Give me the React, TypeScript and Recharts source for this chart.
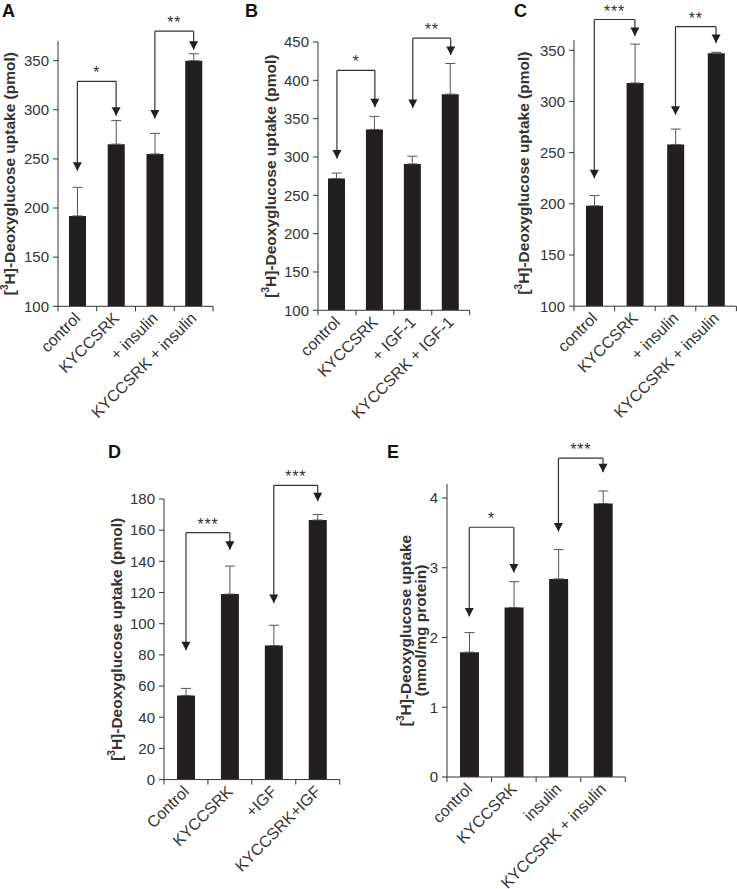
import React from 'react';
import { ComposedChart, Bar, XAxis, YAxis, ErrorBar, ReferenceLine, ReferenceDot } from 'recharts';

const FONT = '"Liberation Sans", Arial, Helvetica, sans-serif';
const DARK = '#231f20';
const AXIS = '#333333';

// ---------- Panel A ----------
const catsA = ['control', 'KYCCSRK', '+ insulin', 'KYCCSRK + insulin'];
const valsA = [192, 265, 255, 350];
const errsA = [29, 24, 21, 7];
const ticksA = [100, 150, 200, 250, 300, 350];
const domainA = [100, 370];
const bracketsA = [
  { from: 'control', to: 'KYCCSRK', top: 329, fromTip: 238, toTip: 294, label: '*' },
  { from: '+ insulin', to: 'KYCCSRK + insulin', top: 380, fromTip: 291, toTip: 361, label: '**' },
];

// ---------- Panel B ----------
const catsB = ['control', 'KYCCSRK', '+ IGF-1', 'KYCCSRK + IGF-1'];
const valsB = [272, 336, 291, 382];
const errsB = [7, 17, 10, 40];
const ticksB = [100, 150, 200, 250, 300, 350, 400, 450];
const domainB = [100, 450];
const bracketsB = [
  { from: 'control', to: 'KYCCSRK', top: 413, fromTip: 298, toTip: 365, label: '*' },
  { from: '+ IGF-1', to: 'KYCCSRK + IGF-1', top: 455, fromTip: 364, toTip: 433, label: '**' },
];

// ---------- Panel C ----------
const catsC = ['control', 'KYCCSRK', '+ insulin', 'KYCCSRK + insulin'];
const valsC = [198, 318, 258, 347];
const errsC = [10, 38, 15, 1];
const ticksC = [100, 150, 200, 250, 300, 350];
const domainC = [100, 360];
const bracketsC = [
  { from: 'control', to: 'KYCCSRK', top: 380, fromTip: 225, toTip: 364, label: '***' },
  { from: '+ insulin', to: 'KYCCSRK + insulin', top: 373, fromTip: 287, toTip: 357, label: '**' },
];

// ---------- Panel D ----------
const catsD = ['Control', 'KYCCSRK', '+IGF', 'KYCCSRK+IGF'];
const valsD = [54, 119, 86, 166.5];
const errsD = [4.5, 18, 13, 3.5];
const ticksD = [0, 20, 40, 60, 80, 100, 120, 140, 160, 180];
const domainD = [0, 180];
const bracketsD = [
  { from: 'Control', to: 'KYCCSRK', top: 158.4, fromTip: 83, toTip: 147.5, label: '***' },
  { from: '+IGF', to: 'KYCCSRK+IGF', top: 188.8, fromTip: 113.3, toTip: 178.5, label: '***' },
];

// ---------- Panel E ----------
const catsE = ['control', 'KYCCSRK', 'insulin', 'KYCCSRK + insulin'];
const valsE = [1.79, 2.43, 2.84, 3.92];
const errsE = [0.28, 0.37, 0.42, 0.18];
const ticksE = [0, 1, 2, 3, 4];
const domainE = [0, 4.2];
const bracketsE = [
  { from: 'control', to: 'KYCCSRK', top: 3.58, fromTip: 2.3, toTip: 2.93, label: '*' },
  { from: 'insulin', to: 'KYCCSRK + insulin', top: 4.57, fromTip: 3.52, toTip: 4.37, label: '***' },
];

const labelPmol = ['(pmol)'];
const labelNmol = ['', '(nmol/mg protein)'];

const Arrow = (p: any) => (
  <path d={`M${p.cx},${p.cy} L${p.cx - 4.5},${p.cy - 8.5} L${p.cx + 4.5},${p.cy - 8.5} Z`} fill={DARK} />
);

const StarLabel = (p: any) => {
  const vb = p.viewBox || {};
  let cx: number, top: number;
  if (vb.x1 !== undefined) {
    cx = (vb.x1 + vb.x2) / 2;
    top = Math.min(vb.y1, vb.y2);
  } else {
    cx = vb.x + (vb.width || 0) / 2;
    top = vb.y;
  }
  return (
    <text x={cx} y={top - 3} textAnchor="middle" fontSize={16} fill={AXIS} letterSpacing={0.8} fontFamily={FONT}>
      {p.text}
    </text>
  );
};

type Geo = { x0: number; x1: number; yTop: number; yBot: number; barSize: number; labelX: number[]; R: number };

function Panel(props: any) {
  const { cats, vals, errs, ticks, domain, brackets, geo, twoLine } = props as { cats: string[]; vals: number[]; errs: number[]; ticks: number[]; domain: number[]; brackets: any[]; geo: Geo; twoLine: boolean };
  const W = 80;
  const T = 50;
  const XH = 140;
  const plotW = geo.x1 - geo.x0;
  const plotH = geo.yBot - geo.yTop;
  const width = W + plotW + geo.R;
  const height = T + plotH + XH;
  const left = geo.x0 - W;
  const data = cats.map((c, i) => ({ cat: c, v: vals[i], e: [0, errs[i]] }));
  const half = plotW / cats.length / 2;
  const cy = T + plotH / 2;

  const XTick = (p: any) => {
    const { x, y, payload, index, visibleTicksCount } = p;
    const ax = x + 4;
    const ay = y + 13;
    return (
      <g>
        <line x1={x - half} x2={x - half} y1={y} y2={y + 5} stroke={AXIS} />
        {index === visibleTicksCount - 1 ? (
          <line x1={x + half} x2={x + half} y1={y} y2={y + 5} stroke={AXIS} />
        ) : null}
        <text x={ax} y={ay} textAnchor="end" transform={`rotate(-45, ${ax}, ${ay})`} fontSize={16} fill={AXIS} fontFamily={FONT}>
          {payload.value}
        </text>
      </g>
    );
  };

  const YLabel = () => {
    const xs = geo.labelX.map((v) => v - left);
    if (twoLine) {
      return (
        <g>
          <text x={xs[0]} y={cy} transform={`rotate(-90, ${xs[0]}, ${cy})`} textAnchor="middle" dominantBaseline="central" fontSize={15.5} fontWeight="bold" fill={AXIS} fontFamily={FONT}>
            <tspan>[</tspan>
            <tspan dy={-5} fontSize={10}>3</tspan>
            <tspan dy={5}>H]-Deoxyglucose uptake</tspan>
          </text>
          <text x={xs[1]} y={cy} transform={`rotate(-90, ${xs[1]}, ${cy})`} textAnchor="middle" dominantBaseline="central" fontSize={15.5} fontWeight="bold" fill={AXIS} fontFamily={FONT}>
            {labelNmol[1]}
          </text>
        </g>
      );
    }
    return (
      <text x={xs[0]} y={cy} transform={`rotate(-90, ${xs[0]}, ${cy})`} textAnchor="middle" dominantBaseline="central" fontSize={15.5} fontWeight="bold" fill={AXIS} fontFamily={FONT}>
        <tspan>[</tspan>
        <tspan dy={-5} fontSize={10}>3</tspan>
        <tspan dy={5}>H]-Deoxyglucose uptake {labelPmol[0]}</tspan>
      </text>
    );
  };

  return (
    <div style={{ position: 'absolute', left, top: geo.yTop - T }}>
      <ComposedChart width={width} height={height} data={data} margin={{ top: T, right: geo.R, bottom: 0, left: 0 }} style={{ overflow: 'visible' }}>
        <XAxis
          dataKey="cat"
          type="category"
          height={XH}
          interval={0}
          tickLine={false}
          tickSize={0}
          tickMargin={0}
          axisLine={{ stroke: AXIS }}
          tick={(p: any) => <XTick {...p} />}
        />
        <YAxis
          width={W}
          type="number"
          domain={domain}
          ticks={ticks}
          allowDataOverflow
          interval={0}
          tickSize={5}
          tickMargin={4}
          tick={{ fill: AXIS, fontSize: 15, fontFamily: FONT }}
          axisLine={{ stroke: AXIS }}
          tickLine={{ stroke: AXIS }}
          label={() => <YLabel />}
        />
        <Bar dataKey="v" fill={DARK} barSize={geo.barSize} isAnimationActive={false}>
          <ErrorBar dataKey="e" width={5} stroke="#555555" strokeWidth={1} direction="y" />
        </Bar>
        {brackets.map((b: any, i: number) => (
          <ReferenceLine key={`l${i}`} segment={[{ x: b.from, y: b.fromTip }, { x: b.from, y: b.top }]} stroke={AXIS} strokeWidth={1.2} ifOverflow="visible" />
        ))}
        {brackets.map((b: any, i: number) => (
          <ReferenceLine
            key={`h${i}`}
            segment={[{ x: b.from, y: b.top }, { x: b.to, y: b.top }]}
            stroke={AXIS}
            strokeWidth={1.2}
            ifOverflow="visible"
            label={(lp: any) => <StarLabel {...lp} text={b.label} />}
          />
        ))}
        {brackets.map((b: any, i: number) => (
          <ReferenceLine key={`r${i}`} segment={[{ x: b.to, y: b.top }, { x: b.to, y: b.toTip }]} stroke={AXIS} strokeWidth={1.2} ifOverflow="visible" />
        ))}
        {brackets.map((b: any, i: number) => (
          <ReferenceDot key={`a${i}`} x={b.from} y={b.fromTip} ifOverflow="visible" shape={Arrow} />
        ))}
        {brackets.map((b: any, i: number) => (
          <ReferenceDot key={`b${i}`} x={b.to} y={b.toTip} ifOverflow="visible" shape={Arrow} />
        ))}
      </ComposedChart>
    </div>
  );
}

const Letter = ({ t, x, y }: { t: string; x: number; y: number }) => (
  <div style={{ position: 'absolute', left: x, top: y - 3, fontSize: 18, fontWeight: 'bold', lineHeight: '18px', color: '#111', fontFamily: FONT }}>{t}</div>
);

export default function App() {
  return (
    <div style={{ position: 'absolute', left: 0, top: 0, width: 737, height: 889, overflow: 'hidden', background: '#fff', fontFamily: FONT }}>
      <Panel cats={catsA} vals={valsA} errs={errsA} ticks={ticksA} domain={domainA} brackets={bracketsA}
        geo={{ x0: 58, x1: 213, yTop: 41.4, yBot: 306.7, barSize: 17, labelX: [9], R: 10 }} />
      <Panel cats={catsB} vals={valsB} errs={errsB} ticks={ticksB} domain={domainB} brackets={bracketsB}
        geo={{ x0: 318.3, x1: 470, yTop: 41.7, yBot: 310, barSize: 17, labelX: [270], R: 10 }} />
      <Panel cats={catsC} vals={valsC} errs={errsC} ticks={ticksC} domain={domainC} brackets={bracketsC}
        geo={{ x0: 574.3, x1: 736.7, yTop: 39.8, yBot: 306, barSize: 17, labelX: [523], R: 2 }} />
      <Panel cats={catsD} vals={valsD} errs={errsD} ticks={ticksD} domain={domainD} brackets={bracketsD}
        geo={{ x0: 164.3, x1: 340, yTop: 498.7, yBot: 779.3, barSize: 18, labelX: [116.7], R: 10 }} />
      <Panel cats={catsE} vals={valsE} errs={errsE} ticks={ticksE} domain={domainE} brackets={bracketsE} twoLine
        geo={{ x0: 446.7, x1: 625, yTop: 484.3, yBot: 777.3, barSize: 19, labelX: [405, 420], R: 10 }} />
      <Letter t="A" x={2} y={5} />
      <Letter t="B" x={245} y={5} />
      <Letter t="C" x={514} y={5} />
      <Letter t="D" x={108} y={446} />
      <Letter t="E" x={387} y={446} />
    </div>
  );
}
